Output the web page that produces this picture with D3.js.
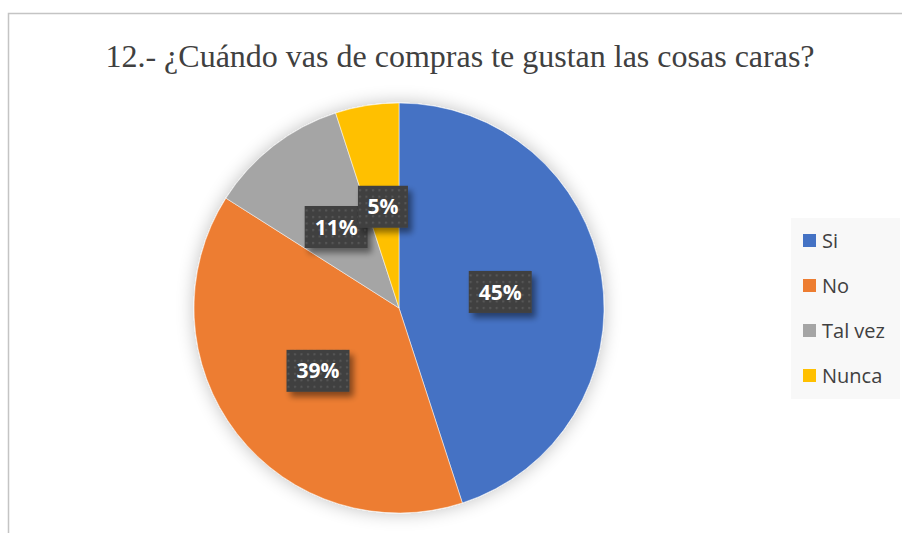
<!DOCTYPE html>
<html>
<head>
<meta charset="utf-8">
<script src="https://cdn.jsdelivr.net/npm/d3@7"></script>
<style>
  body { margin: 0; background: #fff; }
</style>
</head>
<body>
<svg id="chart" width="902" height="533"></svg>
<script>
const categories = ['Si', 'No', 'Tal vez', 'Nunca'];
const values = [45, 39, 11, 5];
const colors = ['#4472C4', '#ED7D31', '#A5A5A5', '#FFC000'];
const title = '12.- ¿Cuándo vas de compras te gustan las cosas caras?';

const svg = d3.select('#chart');
const defs = svg.append('defs');

// soft shadow under the pie
const pieShadow = defs.append('filter').attr('id', 'pieShadow')
    .attr('x', '-20%').attr('y', '-20%').attr('width', '140%').attr('height', '140%');
pieShadow.append('feGaussianBlur').attr('in', 'SourceAlpha').attr('stdDeviation', 9);
pieShadow.append('feComponentTransfer').append('feFuncA').attr('type', 'linear').attr('slope', 0.25);
const pm = pieShadow.append('feMerge');
pm.append('feMergeNode');
pm.append('feMergeNode').attr('in', 'SourceGraphic');

// label box shadow
const boxShadow = defs.append('filter').attr('id', 'boxShadow')
    .attr('x', '-30%').attr('y', '-30%').attr('width', '170%').attr('height', '180%');
boxShadow.append('feGaussianBlur').attr('in', 'SourceAlpha').attr('stdDeviation', 3);
boxShadow.append('feOffset').attr('dx', 4).attr('dy', 5).attr('result', 'b');
boxShadow.append('feComponentTransfer').append('feFuncA').attr('type', 'linear').attr('slope', 0.45);
const bm = boxShadow.append('feMerge');
bm.append('feMergeNode');
bm.append('feMergeNode').attr('in', 'SourceGraphic');

// dotted texture for label boxes
const pat = defs.append('pattern').attr('id', 'dots')
    .attr('patternUnits', 'userSpaceOnUse').attr('width', 6.5).attr('height', 6.5);
pat.append('rect').attr('width', 6.5).attr('height', 6.5).attr('fill', '#404040');
pat.append('rect').attr('x', 2).attr('y', 2).attr('width', 2).attr('height', 2).attr('fill', '#585858');

// frame
svg.append('path')
    .attr('d', 'M8.5,533 L8.5,13.5 L902,13.5')
    .attr('fill', 'none')
    .attr('stroke', '#c4c4c4')
    .attr('stroke-width', 1.5);

svg.append('text')
    .attr('x', 460)
    .attr('y', 67)
    .attr('text-anchor', 'middle')
    .attr('font-family', 'Liberation Serif, Times New Roman, serif')
    .attr('font-size', 32)
    .attr('fill', '#404040')
    .text(title);

const cx = 399, cy = 308, radius = 205;

const pie = d3.pie().sort(null).value(d => d);
const arc = d3.arc().innerRadius(0).outerRadius(radius);
const arcs = pie(values);

const g = svg.append('g').attr('transform', `translate(${cx},${cy})`);

g.append('g').attr('filter', 'url(#pieShadow)')
    .selectAll('path')
    .data(arcs)
    .join('path')
    .attr('d', arc)
    .attr('fill', (d, i) => colors[i])
    .attr('stroke', '#fff')
    .attr('stroke-width', 0.5);

const boxW = [63, 63, 63, 50];
const labels = g.selectAll('g.lbl')
    .data(arcs)
    .join('g')
    .attr('class', 'lbl')
    .attr('transform', d => {
        const c = arc.centroid(d);
        return `translate(${c[0]},${c[1]})`;
    });

labels.append('rect')
    .attr('x', (d, i) => -boxW[i] / 2)
    .attr('y', -21)
    .attr('width', (d, i) => boxW[i])
    .attr('height', 42)
    .attr('fill', 'url(#dots)')
    .attr('filter', 'url(#boxShadow)');

labels.append('text')
    .attr('text-anchor', 'middle')
    .attr('dy', '0.36em')
    .attr('font-family', 'Open Sans, Noto Sans, sans-serif')
    .attr('font-weight', 'bold')
    .attr('font-size', 21)
    .attr('fill', '#fff')
    .text(d => d3.format('.0%')(d.data / d3.sum(values)));

// legend
svg.append('rect')
    .attr('x', 791).attr('y', 218)
    .attr('width', 109).attr('height', 181)
    .attr('fill', '#f8f8f8');

const ly = d3.scalePoint().domain(categories).range([241, 376]);
const leg = svg.selectAll('g.leg')
    .data(categories)
    .join('g')
    .attr('class', 'leg')
    .attr('transform', d => `translate(803,${ly(d)})`);

leg.append('rect')
    .attr('x', 0).attr('y', -7)
    .attr('width', 13).attr('height', 13)
    .attr('fill', (d, i) => colors[i]);

leg.append('text')
    .attr('x', 19)
    .attr('dy', '0.36em')
    .attr('font-family', 'Open Sans, Noto Sans, sans-serif')
    .attr('font-size', 20)
    .attr('fill', '#404040')
    .text(d => d);
</script>
</body>
</html>
